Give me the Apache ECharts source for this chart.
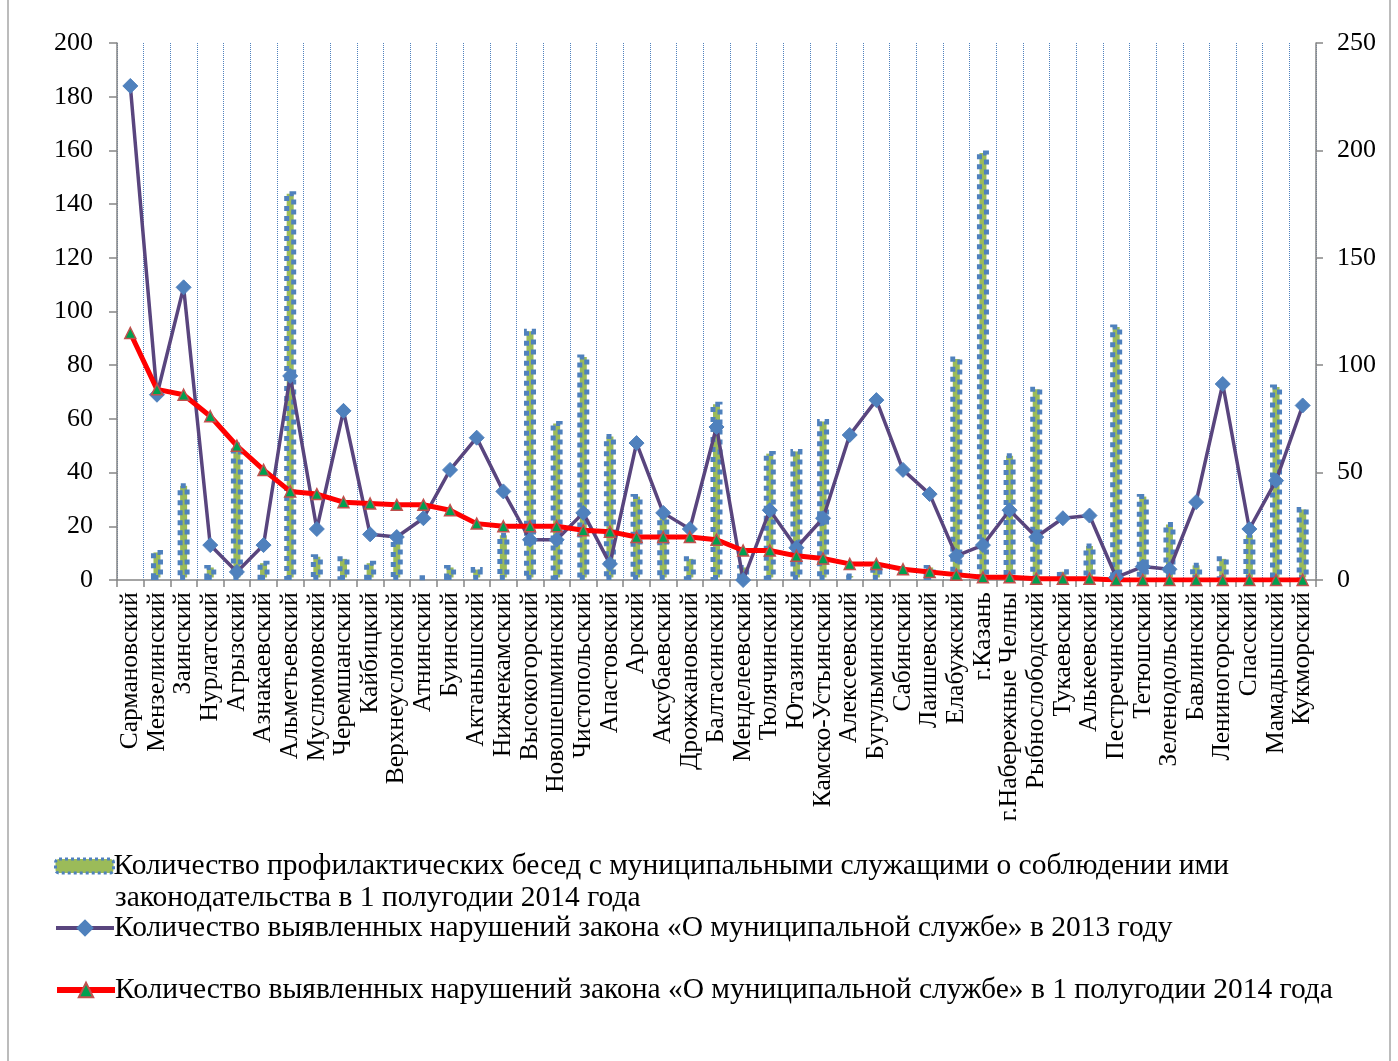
<!DOCTYPE html>
<html>
<head>
<meta charset="utf-8">
<script src="https://cdn.jsdelivr.net/npm/echarts@6/dist/echarts.min.js"></script>
<style>
html,body{margin:0;padding:0;background:#fff;}
#chart{width:1398px;height:1061px;}
</style>
</head>
<body>
<div id="chart"></div>
<script>
const categories = ['Сармановский','Мензелинский','Заинский','Нурлатский','Агрызский','Азнакаевский','Альметьевский','Муслюмовский','Черемшанский','Кайбицкий','Верхнеуслонский','Атнинский','Буинский','Актанышский','Нижнекамский','Высокогорский','Новошешминский','Чистопольский','Апастовский','Арский','Аксубаевский','Дрожжановский','Балтасинский','Менделеевский','Тюлячинский','Ютазинский','Камско-Устьинский','Алексеевский','Бугульминский','Сабинский','Лаишевский','Елабужский','г.Казань','г.Набережные Челны','Рыбнослободский','Тукаевский','Алькеевский','Пестречинский','Тетюшский','Зеленодольский','Бавлинский','Лениногорский','Спасский','Мамадышский','Кукморский'];

// Bars, read on the right axis (0-250)
const talks2014 = [0,14,45,7,64,9,181,12,11,9,19,2,7,6,22,117,74,105,68,40,31,11,83,7,60,61,75,3,6,0,7,104,200,59,90,5,17,119,40,27,8,11,22,91,34];
// Diamond line, read on the left axis (0-200)
const viol2013 = [184,69,109,13,3,13,76,19,63,17,16,23,41,53,33,15,15,25,6,51,25,19,57,0,26,12,23,54,67,41,32,9,13,26,16,23,24,1,5,4,29,73,19,37,65];
// Red line, read on the left axis (0-200)
const viol2014 = [92,71,69,61,50,41,33,32,29,28.5,28,28,26,21,20,20,20,18.5,18,16,16,16,15,11,11,9,8,6,6,4,3,2,1,1,0.5,0.5,0.5,0,0,0,0,0,0,0,0];

const nameBars = 'Количество профилактических бесед с муниципальными служащими о соблюдении ими законодательства в 1 полугодии 2014 года';
const name2013 = 'Количество выявленных нарушений закона «О муниципальной службе» в 2013 году';
const name2014 = 'Количество выявленных нарушений закона «О муниципальной службе» в 1 полугодии 2014 года';

const FONT = "'Liberation Serif','Times New Roman',serif";
const LEG_FS = 29.5;
const chart = echarts.init(document.getElementById('chart'));
const legendBase = {
  left: 54, orient: 'vertical', padding: 0, itemGap: 0,
  itemWidth: 58, itemHeight: 14,
  textStyle: {fontFamily: FONT, fontSize: LEG_FS, color: '#000', padding: [0,0,0,-5]},
  selectedMode: false
};
chart.setOption({
  backgroundColor: '#fff',
  animation: false,
  textStyle: {fontFamily: FONT},
  grid: {left: 117, right: 82, top: 43, bottom: 481, containLabel: false},
  legend: [
    Object.assign({}, legendBase, {top: 851, data: [nameBars],
      itemStyle: {borderWidth: 3, borderType: [3, 3]},
      formatter: () => 'Количество профилактических бесед с муниципальными служащими о соблюдении ими'}),
    Object.assign({}, legendBase, {top: 913, itemHeight: 22, data: [name2013],
      lineStyle: {width: 4}}),
    Object.assign({}, legendBase, {top: 975, itemHeight: 18, data: [name2014],
      lineStyle: {width: 6}})
  ],
  graphic: [
    {type: 'text', style: {x: 115, y: 898, text: 'законодательства в 1 полугодии 2014 года', font: LEG_FS + "px " + FONT, fill: '#000', verticalAlign: 'middle'}},
    {type: 'line', shape: {x1: 8, y1: 0, x2: 8, y2: 1061}, style: {stroke: '#A6A6A6', lineWidth: 1.5}},
    {type: 'line', shape: {x1: 1390, y1: 0, x2: 1390, y2: 1061}, style: {stroke: '#A6A6A6', lineWidth: 1.5}}
  ],
  xAxis: {
    type: 'category', data: categories, boundaryGap: true,
    axisLine: {lineStyle: {color: '#868686', width: 1.5}},
    axisTick: {show: true, interval: 0, length: 7, lineStyle: {color: '#868686', width: 1.5}},
    axisLabel: {interval: 0, rotate: 90, fontFamily: FONT, fontSize: 25.5, color: '#000', margin: 12},
    splitLine: {show: true, interval: 0, lineStyle: {color: '#4F81BD', type: 'dotted', width: 1}}
  },
  yAxis: [
    {type: 'value', min: 0, max: 200, interval: 20, position: 'left',
     axisLine: {show: true, lineStyle: {color: '#868686', width: 1.5}},
     axisTick: {show: true, length: 8, lineStyle: {color: '#868686', width: 1.5}},
     axisLabel: {fontFamily: FONT, fontSize: 26, color: '#000', margin: 24},
     splitLine: {show: false}},
    {type: 'value', min: 0, max: 250, interval: 50, position: 'right',
     axisLine: {show: true, lineStyle: {color: '#868686', width: 1.5}},
     axisTick: {show: true, length: 7, lineStyle: {color: '#868686', width: 1.5}},
     axisLabel: {fontFamily: FONT, fontSize: 26, color: '#000', margin: 21},
     splitLine: {show: false}}
  ],
  series: [
    {name: nameBars, type: 'bar', yAxisIndex: 1, data: talks2014.map(v => v === 0 ? '-' : v), barWidth: 12,
     itemStyle: {color: '#9BBB59', borderColor: '#4F81BD', borderWidth: 5, borderType: [5, 5]}},
    {name: name2013, type: 'line', yAxisIndex: 0, data: viol2013,
     symbol: 'diamond', symbolSize: 15, showAllSymbol: true,
     lineStyle: {color: '#59457E', width: 3.5},
     itemStyle: {color: '#4F81BD', borderColor: '#4F81BD'}},
    {name: name2014, type: 'line', yAxisIndex: 0, data: viol2014,
     symbol: 'triangle', symbolSize: 11, showAllSymbol: true,
     lineStyle: {color: '#FF0000', width: 5},
     itemStyle: {color: '#00A050', borderColor: '#C0504D', borderWidth: 1.5}}
  ]
});
</script>
</body>
</html>
